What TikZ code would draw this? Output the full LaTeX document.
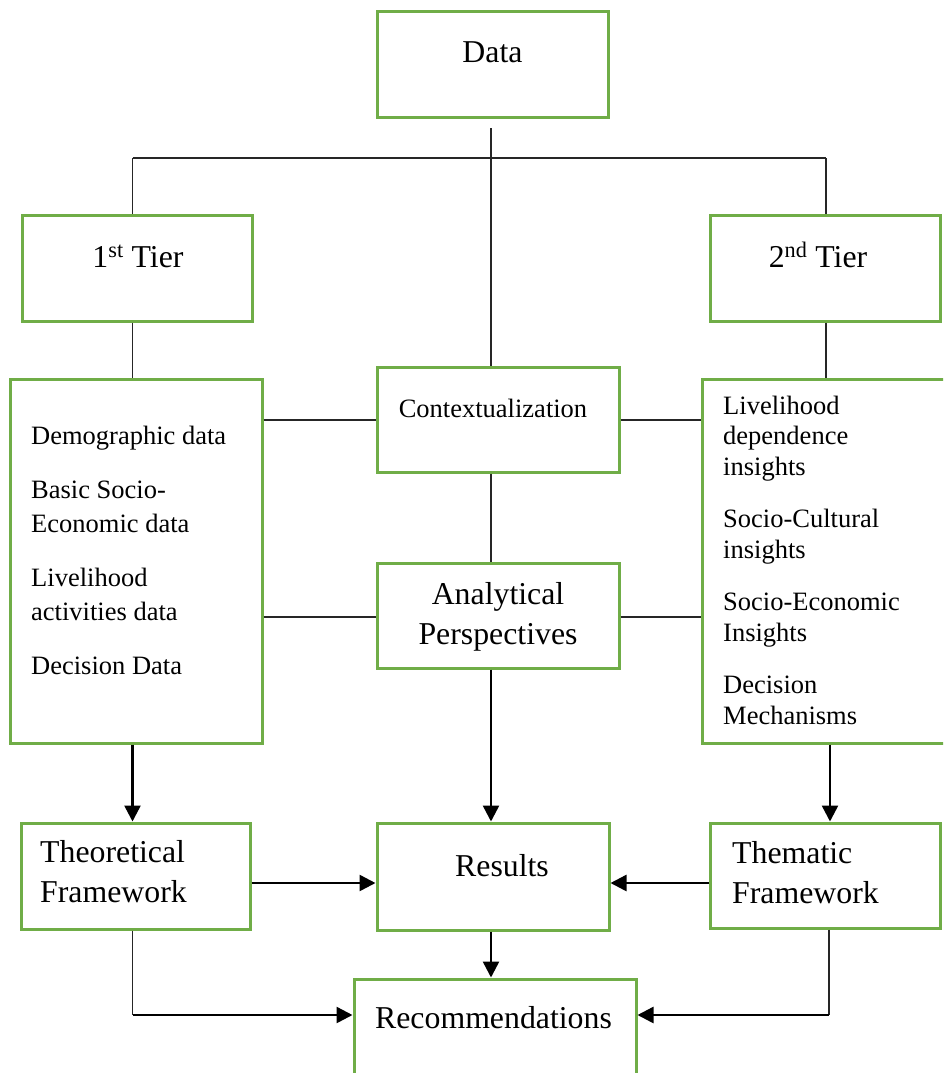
\documentclass[tikz,border=0pt]{standalone}
\usepackage{fontspec}
\setmainfont{Liberation Serif}
\usetikzlibrary{arrows.meta}
\definecolor{boxgreen}{RGB}{112,173,71}
\tikzset{
  box/.style={draw=boxgreen, line width=3pt, rectangle, inner sep=0pt},
  link/.style={draw=black!85, line width=1.3pt},
  flow/.style={draw=black, line width=2.5pt, -{Triangle[length=16pt,width=16pt]}},
  big/.style={font=\fontsize{31.8}{40}\selectfont, inner sep=0pt},
  small/.style={font=\fontsize{26.5}{34}\selectfont, inner sep=0pt},
  smalltight/.style={font=\fontsize{26.5}{30.5}\selectfont, inner sep=0pt},
}
\begin{document}
\begin{tikzpicture}[x=1pt,y=-1pt]
\clip (0,0) rectangle (943,1073);

% boxes
\node[box, minimum width=231pt, minimum height=105pt] (data)  at (492.5,64.5) {};
\node[box, minimum width=230pt, minimum height=106pt] (tier1) at (137,268) {};
\node[box, minimum width=230pt, minimum height=106pt] (tier2) at (825,268) {};
\node[box, minimum width=252pt, minimum height=364pt] (list1) at (136,561) {};
\node[box, minimum width=278pt, minimum height=364pt] (list2) at (841,561) {};
\node[box, minimum width=242pt, minimum height=105pt] (ctx)   at (498,419.5) {};
\node[box, minimum width=242pt, minimum height=105pt] (anal)  at (498,615.5) {};
\node[box, minimum width=229pt, minimum height=106pt] (theo)  at (135.5,876) {};
\node[box, minimum width=232pt, minimum height=107pt] (res)   at (493,876.5) {};
\node[box, minimum width=230pt, minimum height=105pt] (them)  at (825,875.5) {};
\node[box, minimum width=282pt, minimum height=111pt] (rec)   at (495,1034.5) {};

% texts
\node[big, anchor=base] (data-t) at (492.5,63) {Data};
\node[big, anchor=base] (tier1-t) at (138,267) {1\textsuperscript{st} Tier};
\node[big, anchor=base] (tier2-t) at (818,267) {2\textsuperscript{nd} Tier};
\node[small, anchor=base] (ctx-t) at (493,417) {Contextualization};
\node[big, anchor=base] (anal-t) at (498,604) {\parbox[t]{240pt}{\centering Analytical\\Perspectives}};
\node[big, anchor=base] (res-t) at (502,876) {Results};
\node[big, anchor=base] (rec-t) at (493.5,1028) {Recommendations};
\node[big, anchor=base west] (theo-t) at (40,862) {\parbox[t]{205pt}{Theoretical\\Framework}};
\node[big, anchor=base west] (them-t) at (732,863) {\parbox[t]{205pt}{Thematic\\Framework}};
\node[small, anchor=base west] (list1-t) at (31,444) {\parbox[t]{225pt}{\raggedright
  Demographic data\par\vspace{20pt}
  Basic Socio-\\Economic data\par\vspace{20pt}
  Livelihood\\activities data\par\vspace{20pt}
  Decision Data}};
\node[smalltight, anchor=base west] (list2-t) at (723,414) {\parbox[t]{215pt}{\raggedright
  Livelihood\\dependence\\insights\par\vspace{22pt}
  Socio-Cultural\\insights\par\vspace{22pt}
  Socio-Economic\\Insights\par\vspace{22pt}
  Decision\\Mechanisms}};

% tree from the data box
\coordinate (top) at (491,128);
\coordinate (jl) at (132.5,158);
\coordinate (jr) at (826,158);
\coordinate (r1) at (0,420);
\coordinate (r2) at (0,617);
\coordinate (r3) at (0,883);
\coordinate (rcol) at (830,0);
\coordinate (bl) at (132.5,1015);
\coordinate (br) at (829,1015);

\draw[link] (top) -- (top |- ctx.north);
\draw[link] (jl) -- (jr);
\draw[link] (jl) -- (jl |- tier1.north);
\draw[link] (jr) -- (jr |- tier2.north);
\draw[link] (jl |- tier1.south) -- (jl |- list1.north);
\draw[link] (jr |- tier2.south) -- (jr |- list2.north);
\draw[link] (r1 -| list1.east) -- (r1 -| ctx.west);
\draw[link] (r1 -| ctx.east) -- (r1 -| list2.west);
\draw[link] (r2 -| list1.east) -- (r2 -| anal.west);
\draw[link] (r2 -| anal.east) -- (r2 -| list2.west);
\draw[link] (top |- ctx.south) -- (top |- anal.north);

% flows towards results and recommendations
\draw[flow] (jl |- list1.south) -- (jl |- theo.north);
\draw[flow] (rcol |- list2.south) -- (rcol |- them.north);
\draw[flow] (top |- anal.south) -- (top |- res.north);
\draw[flow] (r3 -| theo.east) -- (r3 -| res.west);
\draw[flow] (r3 -| them.west) -- (r3 -| res.east);
\draw[flow] (top |- res.south) -- (top |- rec.north);
\draw[link] (bl |- theo.south) -- (bl);
\draw[flow] (bl) -- (bl -| rec.west);
\draw[link] (br |- them.south) -- (br);
\draw[flow] (br) -- (br -| rec.east);
\end{tikzpicture}
\end{document}
